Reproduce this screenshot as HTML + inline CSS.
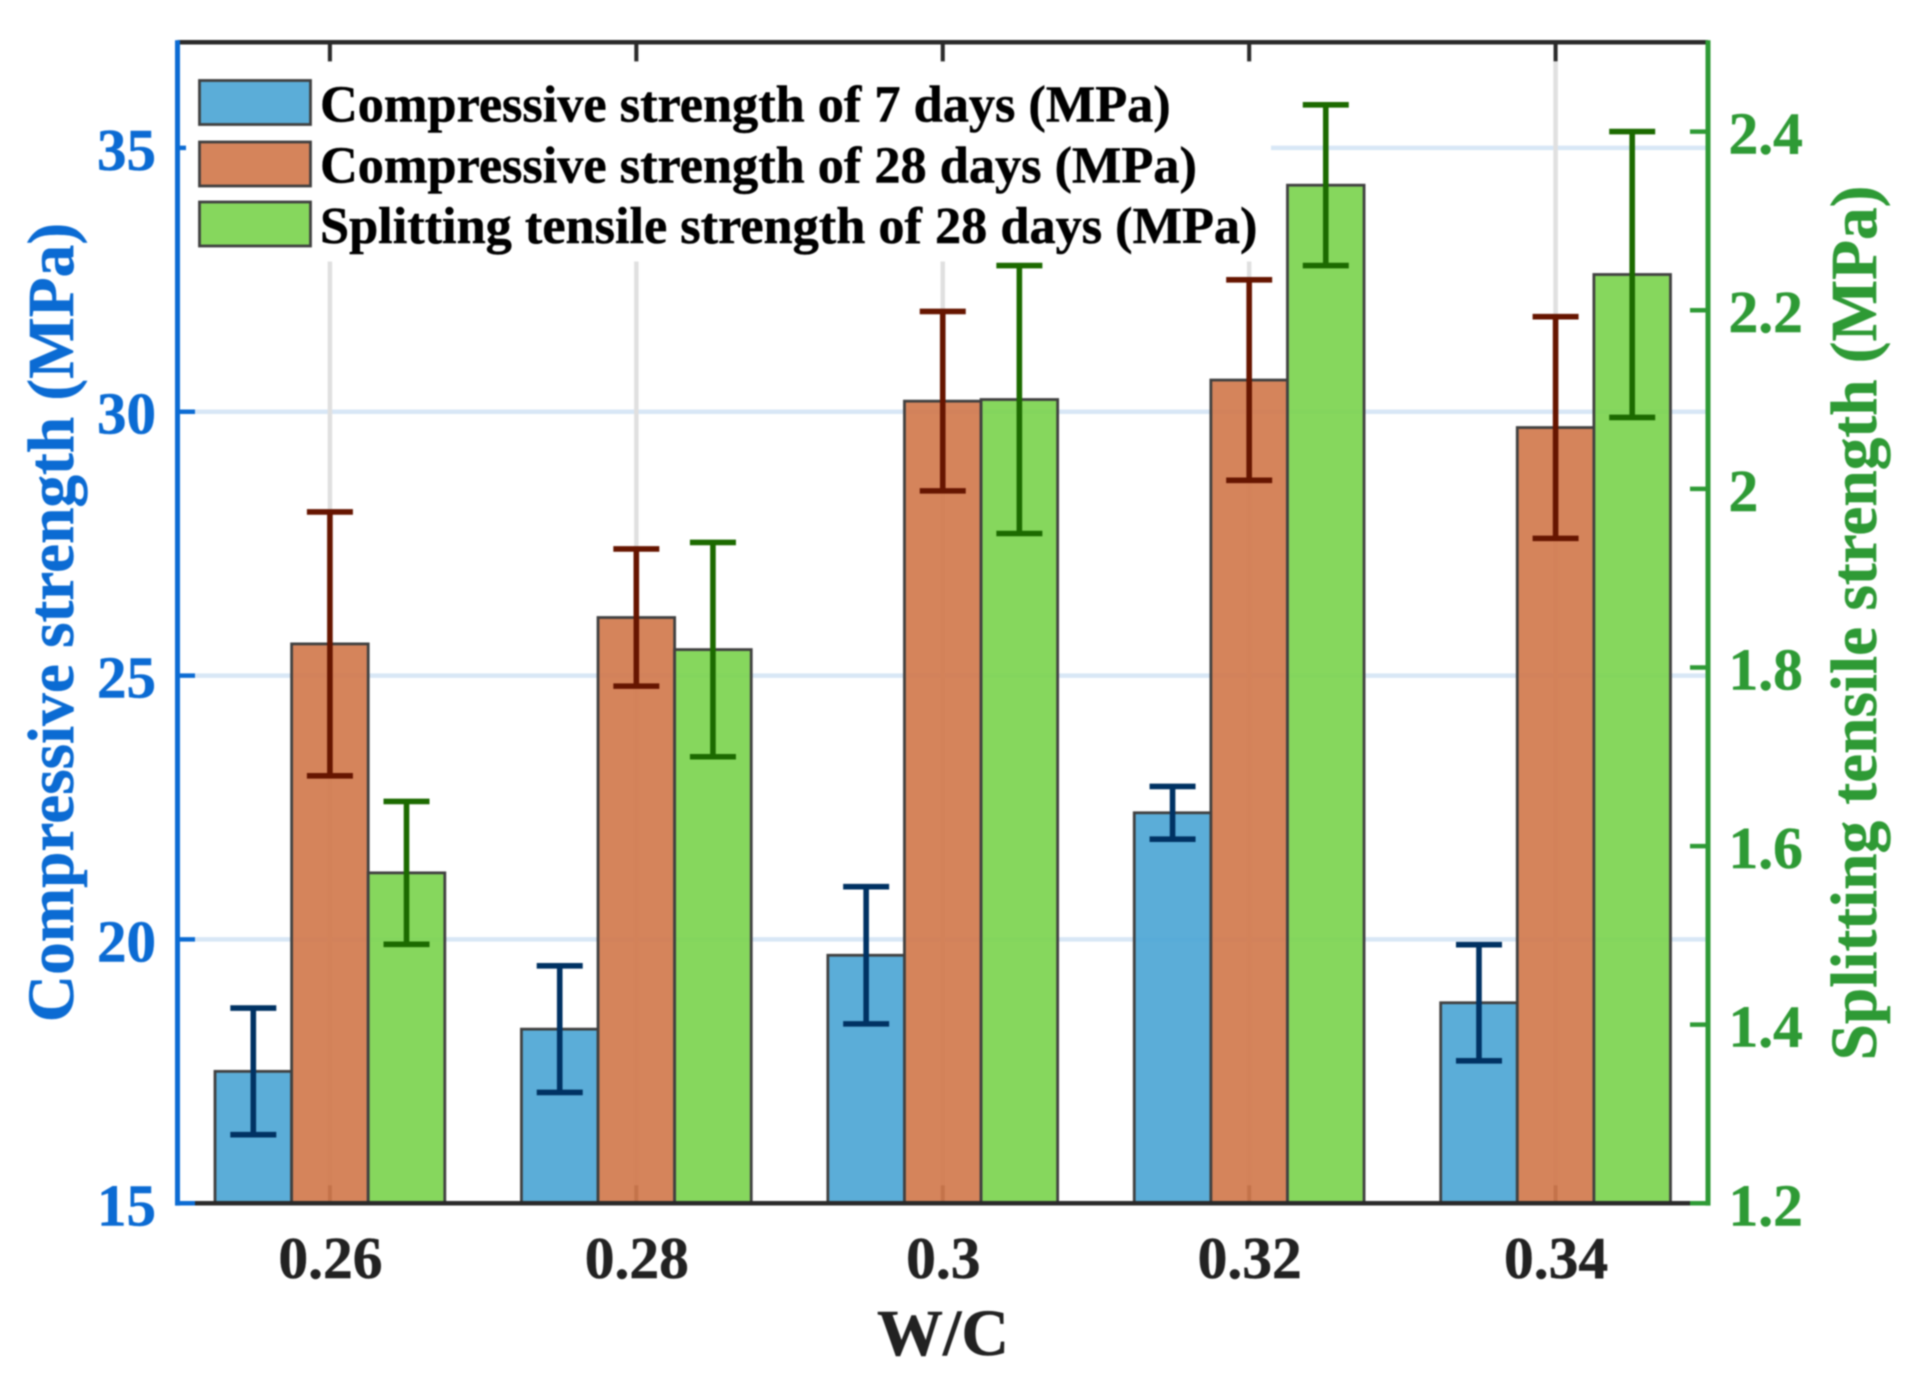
<!DOCTYPE html>
<html lang="en">
<head>
<meta charset="utf-8">
<title>Compressive and splitting tensile strength vs W/C</title>
<style>
html,body{margin:0;padding:0;background:#fff;width:1920px;height:1392px;overflow:hidden}
svg{display:block;filter:blur(0.9px)}
text{font-family:"Liberation Serif",serif;font-weight:bold;stroke-width:0.5px;paint-order:stroke}
</style>
</head>
<body>
<svg id="chart" xmlns="http://www.w3.org/2000/svg" width="1920" height="1392" viewBox="0 0 1920 1392"></svg>
<script>
const categories = ["0.26", "0.28", "0.3", "0.32", "0.34"];
const compressive7 = [17.5, 18.3, 19.7, 22.4, 18.8];
const compressive7Upper = [18.7, 19.5, 21.0, 22.9, 19.9];
const compressive7Lower = [16.3, 17.1, 18.4, 21.9, 17.7];
const compressive28 = [25.6, 26.1, 30.2, 30.6, 29.7];
const compressive28Upper = [28.1, 27.4, 31.9, 32.5, 31.8];
const compressive28Lower = [23.1, 24.8, 28.5, 28.7, 27.6];
const tensile28 = [1.57, 1.82, 2.10, 2.34, 2.24];
const tensile28Upper = [1.65, 1.94, 2.25, 2.43, 2.40];
const tensile28Lower = [1.49, 1.70, 1.95, 2.25, 2.08];
const leftTicks = [15, 20, 25, 30, 35];
const rightTicks = [1.2, 1.4, 1.6, 1.8, 2, 2.2, 2.4];
const legendLabels = [
  "Compressive strength of 7 days (MPa)",
  "Compressive strength of 28 days (MPa)",
  "Splitting tensile strength of 28 days (MPa)"
];

const svg = document.getElementById('chart');
const NS = 'http://www.w3.org/2000/svg';
const plot = {left: 176.7, right: 1708.8, top: 42.3, bottom: 1203.3};
const axisLeftX = 177.5;
const axisRightX = 1708;
const leftRange = [15, 37];
const rightRange = [1.2, 2.5];
const xRange = [0.5, 5.5];
const BLUE = '#0B6BD3', GREEN = '#2E9A35', DARK = '#2A2A2A';

function xPos(v) { return plot.left + (v - xRange[0]) / (xRange[1] - xRange[0]) * (plot.right - plot.left); }
function yLeft(v) { return plot.bottom - (v - leftRange[0]) / (leftRange[1] - leftRange[0]) * (plot.bottom - plot.top); }
function yRight(v) { return plot.bottom - (v - rightRange[0]) / (rightRange[1] - rightRange[0]) * (plot.bottom - plot.top); }

function mk(tag, attrs, parent) {
  const el = document.createElementNS(NS, tag);
  for (const k in attrs) el.setAttribute(k, attrs[k]);
  (parent || svg).appendChild(el);
  return el;
}
function group(name) {
  const g = mk('g', {});
  
  
  return g;
}

/* horizontal grid */
const gridH = group('horizontal-gridlines');
leftTicks.filter(function (t) { return t > leftRange[0]; }).forEach(function (t) {
  const l = mk('line', {x1: 195, x2: axisRightX, y1: yLeft(t), y2: yLeft(t), stroke: '#D8E7F6', 'stroke-width': 4.5}, gridH);
  
  
});

/* vertical grid */
const gridV = group('vertical-gridlines');
categories.forEach(function (c, i) {
  const l = mk('line', {x1: xPos(i + 1), x2: xPos(i + 1), y1: plot.top, y2: plot.bottom, stroke: '#E0E0E0', 'stroke-width': 4.5}, gridV);
  
  
});

/* left axis ticks sit under the legend box */
const leftAxis = group('left-axis');
leftTicks.forEach(function (t) {
  const tk = mk('line', {x1: axisLeftX, x2: 195, y1: yLeft(t), y2: yLeft(t), stroke: BLUE, 'stroke-width': 4.5}, leftAxis);
  
  
  const lb = mk('text', {x: 156, y: yLeft(t) + 22, 'text-anchor': 'end', 'font-size': 59, fill: BLUE, stroke: BLUE}, leftAxis);
  lb.textContent = String(t);
  
  
});

/* legend background masks the grid */
const legendBox = mk('rect', {x: 186, y: 62, width: 1085, height: 199.5, fill: '#fff'});



/* bottom and top ticks */
const xAxis = group('x-axis');
categories.forEach(function (c, i) {
  const px = xPos(i + 1);
  const top = mk('line', {x1: px, x2: px, y1: plot.top, y2: plot.top + 19, stroke: DARK, 'stroke-width': 4}, xAxis);
  
  
  const bot = mk('line', {x1: px, x2: px, y1: plot.bottom - 18, y2: plot.bottom, stroke: DARK, 'stroke-width': 4}, xAxis);
  
  
  const lb = mk('text', {x: px + 0.5, y: 1278, 'text-anchor': 'middle', 'font-size': 59.5, fill: '#222', stroke: '#222'}, xAxis);
  lb.textContent = c;
  
  
});

/* bars */
const barWidth = 0.25;
const seriesDefs = [
  {key: 'compressive-7d', vals: compressive7, up: compressive7Upper, lo: compressive7Lower, fill: '#4DA6D5', err: '#003263', y: yLeft, off: -1},
  {key: 'compressive-28d', vals: compressive28, up: compressive28Upper, lo: compressive28Lower, fill: '#D1794D', err: '#661500', y: yLeft, off: 0},
  {key: 'tensile-28d', vals: tensile28, up: tensile28Upper, lo: tensile28Lower, fill: '#7CD44F', err: '#1C6A00', y: yRight, off: 1}
];
const barsGroup = group('bars');
seriesDefs.forEach(function (s) {
  s.vals.forEach(function (v, i) {
    const x0 = xPos(i + 1 + s.off * barWidth - barWidth / 2);
    const x1 = xPos(i + 1 + s.off * barWidth + barWidth / 2);
    const r = mk('rect', {x: x0, y: s.y(v), width: x1 - x0, height: plot.bottom - s.y(v), fill: s.fill, 'fill-opacity': 0.92, stroke: '#404040', 'stroke-width': 2.8}, barsGroup);
    
    
  });
});

/* axis box */
const box = group('axis-lines');
const topLine = mk('line', {x1: axisLeftX, x2: axisRightX, y1: plot.top, y2: plot.top, stroke: DARK, 'stroke-width': 4.5}, box);


const bottomLine = mk('line', {x1: 195, x2: 1690, y1: plot.bottom, y2: plot.bottom, stroke: DARK, 'stroke-width': 4.5}, box);


const leftLine = mk('line', {x1: axisLeftX, x2: axisLeftX, y1: plot.top - 2, y2: plot.bottom + 2.3, stroke: BLUE, 'stroke-width': 5}, box);


const rightLine = mk('line', {x1: axisRightX, x2: axisRightX, y1: plot.top - 2, y2: plot.bottom + 2.3, stroke: GREEN, 'stroke-width': 5}, box);



/* right axis */
const rightAxis = group('right-axis');
rightTicks.forEach(function (t) {
  const tk = mk('line', {x1: 1690, x2: axisRightX, y1: yRight(t), y2: yRight(t), stroke: GREEN, 'stroke-width': 4.5}, rightAxis);
  
  
  const lb = mk('text', {x: 1728.5, y: yRight(t) + 22, 'font-size': 59.5, fill: GREEN, stroke: GREEN}, rightAxis);
  lb.textContent = String(t);
  
  
});

/* error bars */
const errGroup = group('error-bars');
const capHalf = 23;
seriesDefs.forEach(function (s) {
  s.vals.forEach(function (v, i) {
    const cx = xPos(i + 1 + s.off * barWidth);
    const yu = s.y(s.up[i]);
    const yl = s.y(s.lo[i]);
    const stem = mk('line', {x1: cx, x2: cx, y1: yu, y2: yl, stroke: s.err, 'stroke-width': 5.6}, errGroup);
    
    
    const capU = mk('line', {x1: cx - capHalf, x2: cx + capHalf, y1: yu, y2: yu, stroke: s.err, 'stroke-width': 5.6}, errGroup);
    
    
    const capL = mk('line', {x1: cx - capHalf, x2: cx + capHalf, y1: yl, y2: yl, stroke: s.err, 'stroke-width': 5.6}, errGroup);
    
    
  });
});

/* legend */
const legend = group('legend');
legendLabels.forEach(function (label, i) {
  const sw = mk('rect', {x: 199.5, y: [80.5, 142, 202][i], width: 111, height: 44, fill: seriesDefs[i].fill, 'fill-opacity': 0.92, stroke: '#404040', 'stroke-width': 2.8}, legend);
  
  
  const t = mk('text', {x: 320, y: [121.5, 182.5, 243][i], 'font-size': 52.3, fill: '#000', stroke: '#000'}, legend);
  t.textContent = label;
  
  
});

/* axis titles */
const xTitle = mk('text', {x: 943, y: 1355, 'text-anchor': 'middle', 'font-size': 66, fill: '#222', stroke: '#222'});
xTitle.textContent = 'W/C';



const yTitleL = mk('text', {transform: 'translate(73,622.5) rotate(-90)', 'text-anchor': 'middle', 'font-size': 65.3, fill: BLUE, stroke: BLUE});
yTitleL.textContent = 'Compressive strength (MPa)';



const yTitleR = mk('text', {transform: 'translate(1876,623) rotate(-90)', 'text-anchor': 'middle', 'font-size': 65.3, fill: GREEN, stroke: GREEN});
yTitleR.textContent = 'Splitting tensile strength (MPa)';


</script>
</body>
</html>
